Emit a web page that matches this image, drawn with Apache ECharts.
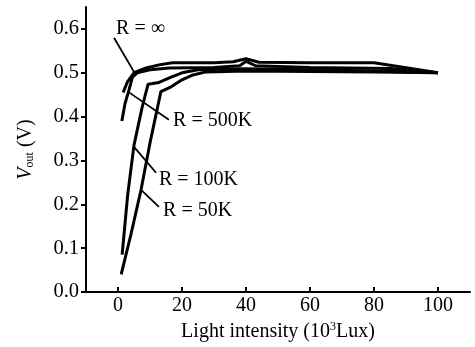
<!DOCTYPE html>
<html><head><meta charset="utf-8">
<script src="https://cdn.jsdelivr.net/npm/echarts@6/dist/echarts.min.js"></script>
<style>html,body{margin:0;padding:0;background:#fff}#c{width:475px;height:347px}</style>
</head><body><div id="c"></div>
<script>
// Data (x: light intensity 10^3 Lux, y: Vout V)
const xTicks = [0, 20, 40, 60, 80, 100];
const yTicks = [0, 0.1, 0.2, 0.3, 0.4, 0.5, 0.6];
const rInf = [[1.6,0.455],[3,0.48],[5,0.5],[8.8,0.511],[12.8,0.518],[17,0.523],[30,0.523],[36,0.525],[40,0.532],[44,0.524],[60,0.523],[80,0.523],[100,0.5]];
const r500K = [[1.2,0.39],[2.2,0.43],[3.4,0.46],[4.5,0.49],[6,0.5],[10,0.507],[16,0.511],[30,0.512],[38,0.516],[40,0.526],[43,0.516],[60,0.512],[85,0.51],[100,0.5]];
const r100K = [[1.3,0.085],[3,0.22],[5,0.335],[7.5,0.42],[9.4,0.474],[12.8,0.478],[16.6,0.49],[20,0.5],[25,0.507],[40,0.509],[60,0.507],[80,0.504],[100,0.5]];
const r50K = [[1,0.04],[4,0.13],[7.2,0.233],[10,0.34],[13.4,0.457],[16.6,0.468],[20,0.484],[23.4,0.495],[27.5,0.502],[40,0.504],[60,0.503],[80,0.502],[100,0.5]];
const labels = ['R = ∞', 'R = 500K', 'R = 100K', 'R = 50K'];
// annotation anchors in data units: [text anchor], [pointer start], [pointer end]
const labelAt = [[-0.6,0.600],[17.2,0.39],[12.8,0.256],[14.1,0.185]];
const pointerFrom = [[-1.25,0.58],[15.9,0.393],[11.9,0.272],[12.8,0.194]];
const pointerTo = [[5,0.502],[3.1,0.457],[5,0.331],[7.2,0.233]];

const font = 'Liberation Serif, Times New Roman, serif';
const chart = echarts.init(document.getElementById('c'), null, {renderer:'canvas'});
const mk = (d) => ({type:'line', data:d, symbol:'none', lineStyle:{color:'#000', width:3}, silent:true, z:3});
chart.setOption({
  animation:false,
  backgroundColor:'#fff',
  grid:{left:86, right:5, top:7, bottom:55},
  xAxis:{type:'value', min:-10, max:110,
    name:'{a|Light intensity (10}{s|3}{a|Lux)}', nameLocation:'middle', nameGap:29,
    nameTextStyle:{rich:{a:{fontFamily:font, fontSize:20, color:'#000'}, s:{fontFamily:font, fontSize:12, color:'#000', verticalAlign:'top', padding:[0,0,9,0]}}},
    axisLine:{onZero:false, lineStyle:{color:'#000', width:2}},
    axisTick:{inside:true, length:5, lineStyle:{color:'#000', width:2}, customValues:xTicks},
    axisLabel:{fontFamily:font, fontSize:20, color:'#000', margin:4, customValues:xTicks},
    splitLine:{show:false}},
  yAxis:{type:'value', min:0, max:0.65,
    name:'{i|V}{s|out}{a| (V)}', nameLocation:'middle', nameGap:50, nameRotate:90,
    nameTextStyle:{rich:{i:{fontFamily:font, fontSize:20, fontStyle:'italic', color:'#000'}, s:{fontFamily:font, fontSize:12, color:'#000', padding:[8,0,0,0]}, a:{fontFamily:font, fontSize:20, color:'#000'}}},
    axisLine:{show:true, onZero:false, lineStyle:{color:'#000', width:2}},
    axisTick:{show:true, inside:false, length:5, lineStyle:{color:'#000', width:2}, customValues:yTicks},
    axisLabel:{fontFamily:font, fontSize:20.5, color:'#000', margin:7, formatter:v=>v.toFixed(1), customValues:yTicks},
    splitLine:{show:false}},
  series:[mk(rInf), mk(r500K), mk(r100K), mk(r50K)]
});
const g = [];
labels.forEach((t,i)=>{
  const p = chart.convertToPixel({gridIndex:0}, labelAt[i]);
  const a = chart.convertToPixel({gridIndex:0}, pointerFrom[i]);
  const b = chart.convertToPixel({gridIndex:0}, pointerTo[i]);
  g.push({type:'text', x:p[0], y:p[1], style:{text:t, fontFamily:font, fontSize:20, fill:'#000', align:'left', verticalAlign:'middle'}, z:10});
  g.push({type:'line', shape:{x1:a[0], y1:a[1], x2:b[0], y2:b[1]}, style:{stroke:'#000', lineWidth:1.8}, z:10});
});
chart.setOption({graphic:g});
</script></body></html>
